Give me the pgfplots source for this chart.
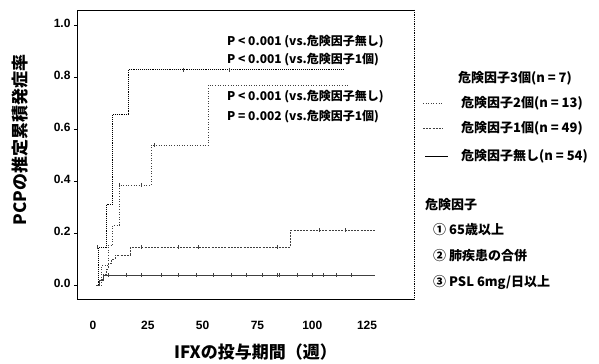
\documentclass[border=0pt]{standalone}
\usepackage{fontspec}
\setmainfont{Noto Sans CJK JP}
\newfontfamily\lat{Liberation Sans}
\usepackage{pgfplots}
\pgfplotsset{compat=1.18}
\begin{document}
\begin{tikzpicture}
\begin{axis}[
  at={(0,0)}, anchor=south west,
  width=337bp, height=289bp, scale only axis,
  xmin=-7.3, xmax=146.4, ymin=-0.054, ymax=1.058,
  axis x line*=bottom, axis y line*=left,
  axis line style={line width=0.9pt, black},
  xtick={0,25,50,75,100,125},
  xticklabels={0,25,50,75,100,125},
  ytick={0,0.2,0.4,0.6,0.8,1.0},
  yticklabels={0.0,0.2,0.4,0.6,0.8,1.0},
  ticklabel style={font=\lat\bfseries\fontsize{12bp}{12bp}\selectfont},
  xtick style={draw=none},
  ytick style={line width=0.6pt, black},
  tick align=outside, major tick length=3bp,
  xticklabel style={yshift=-16bp},
  yticklabel style={yshift=2bp},
]
% 3 risk factors (n=7)
\addplot[const plot, black, line width=0.9pt, densely dotted] coordinates {
 (1.5,0) (2.5,0.143) (6,0.31) (9,0.657) (16,0.829) (114,0.829)};
% 2 risk factors (n=13)
\addplot[const plot, black!75, line width=0.6pt, dotted] coordinates {
 (1.5,0) (4,0.077) (7,0.154) (9,0.231) (12,0.385) (26.5,0.538) (52.5,0.769) (117,0.769)};
% 1 risk factor (n=49)
\addplot[const plot, black!75, line width=0.6pt, dash pattern=on 2pt off 1.2pt] coordinates {
 (1.5,0) (3,0.02) (4.5,0.041) (6,0.061) (7,0.082) (8.5,0.10) (10,0.115) (17,0.145) (90,0.21) (128.6,0.21)};
% none (n=54)
\addplot[const plot, black!75, line width=0.6pt] coordinates {
 (1.5,0) (3,0.019) (4.5,0.037) (128.6,0.037)};
% censor marks
\addplot[only marks, mark=|, mark size=2pt, black!75, mark options={line width=0.5pt}] coordinates {
 (7,0.037) (15,0.037) (22,0.037) (31,0.037) (39,0.037) (47,0.037) (55,0.037) (63,0.037) (70,0.037) (77,0.037) (84,0.037) (85,0.037) (93,0.037) (100,0.037) (105,0.037) (111,0.037) (118,0.037)
 (2,0.145) (22,0.145) (39,0.145) (48,0.145) (84,0.145) (103,0.21) (115,0.21)
 (12,0.385) (22,0.385) (28,0.538) (41,0.829) (62,0.829)};
\end{axis}
\begin{scope}[shift={(current axis.south west)}]
\path (-77bp,-64bp) rectangle (522bp,299bp);
\draw[black, line width=0.7pt] (0bp,289bp) -- (337bp,289bp);
\draw[black, line width=0.8pt, densely dotted] (337bp,289bp) -- (337bp,0bp) -- (320bp,0bp);
% axis labels
\node[rotate=90, font=\fontsize{17bp}{19bp}\selectfont\bfseries] at (-56.5bp,159bp) {PCPの推定累積発症率};
\node[font=\fontsize{17bp}{19bp}\selectfont\bfseries] at (178.5bp,-53bp) {IFXの投与期間（週）};
% p values
\begin{scope}[every node/.style={anchor=west, inner sep=0pt, font=\fontsize{12bp}{14bp}\selectfont\bfseries}]
\node at (150bp,257bp) {P < 0.001 (vs.危険因子無し)};
\node at (150bp,239bp) {P < 0.001 (vs.危険因子1個)};
\node at (150bp,202bp) {P < 0.001 (vs.危険因子無し)};
\node at (150bp,182bp) {P = 0.002 (vs.危険因子1個)};
\end{scope}
% legend
\begin{scope}[every node/.style={anchor=west, inner sep=0pt, font=\fontsize{13bp}{15bp}\selectfont\bfseries}]
\node at (381bp,221bp) {危険因子3個(n = 7)};
\node at (384bp,196bp) {危険因子2個(n = 13)};
\node at (384bp,171bp) {危険因子1個(n = 49)};
\node at (384bp,143bp) {危険因子無し(n = 54)};
\draw[black!75, line width=0.6pt, dotted] (346bp,196bp) -- (366bp,196bp);
\draw[black!75, line width=0.6pt, dash pattern=on 2pt off 1.2pt] (346bp,171bp) -- (366bp,171bp);
\draw[black, line width=0.7pt] (348bp,143bp) -- (371bp,143bp);
\node at (348bp,94bp) {危険因子};
\node at (356bp,69bp) {① 65歳以上};
\node at (356bp,43bp) {② 肺疾患の合併};
\node at (356bp,17bp) {③ PSL 6mg/日以上};
\end{scope}
\end{scope}
\end{tikzpicture}
\end{document}
